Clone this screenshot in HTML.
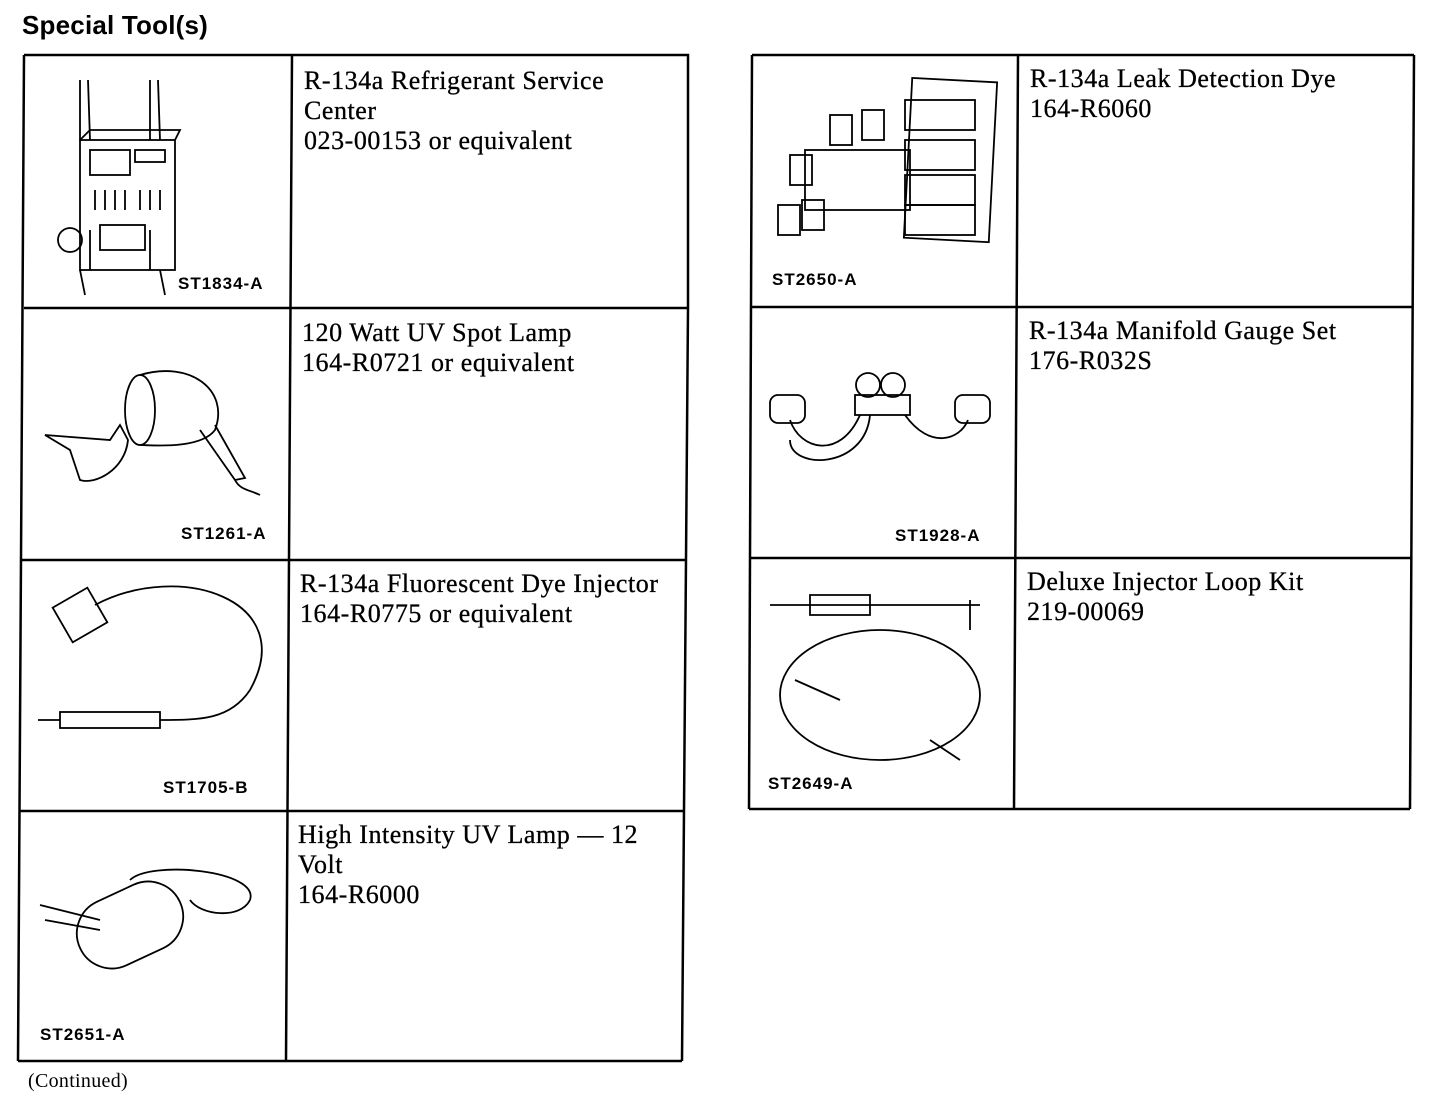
<!DOCTYPE html>
<html><head><meta charset="utf-8"><style>
body{margin:0;width:1440px;height:1110px;background:#fff;position:relative;overflow:hidden}
.t{position:absolute;font-family:"Liberation Serif",serif;font-size:26px;line-height:30px;color:#000;letter-spacing:0.55px;-webkit-text-stroke:0.3px #000}
.l{position:absolute;font-family:"Liberation Sans",sans-serif;font-weight:bold;font-size:17px;color:#000;letter-spacing:1px}
svg{position:absolute;left:0;top:0}
</style></head><body>
<div class="l" style="left:22px;top:10px;font-size:26px;letter-spacing:0.2px">Special Tool(s)</div>
<svg width="1440" height="1110" fill="none" stroke="#000" stroke-width="2.5">
<polyline points="24,55 688,55 688,308"/>
<line x1="24" y1="55" x2="18" y2="1061"/>
<line x1="688" y1="308" x2="682" y2="1061"/>
<line x1="18" y1="1061" x2="682" y2="1061"/>
<line x1="24" y1="308" x2="688" y2="308"/>
<line x1="22" y1="560" x2="686" y2="560"/>
<line x1="20" y1="811" x2="684" y2="811"/>
<line x1="292" y1="55" x2="286" y2="1061"/>
<line x1="752" y1="55" x2="1414" y2="55"/>
<line x1="752" y1="55" x2="749" y2="809"/>
<line x1="1414" y1="55" x2="1410" y2="809"/>
<line x1="749" y1="809" x2="1410" y2="809"/>
<line x1="751" y1="307" x2="1413" y2="307"/>
<line x1="750" y1="558" x2="1412" y2="558"/>
<line x1="1018" y1="55" x2="1014" y2="809"/>
<g stroke-width="1.8">
<path d="M80,140 L80,80 M90,140 L88,80 M150,140 L150,80 M160,140 L158,80"/>
<rect x="80" y="140" width="95" height="130"/><path d="M80,140 l10,-10 h90 l-5,10"/>
<rect x="90" y="150" width="40" height="25"/><rect x="135" y="150" width="30" height="12"/>
<path d="M95,190v20 M105,190v20 M115,190v20 M125,190v20 M140,190v20 M150,190v20 M160,190v20"/>
<circle cx="70" cy="240" r="12"/><path d="M80,270 L85,295 M160,270 L165,295 M90,230 v40 M150,230 v40"/>
<rect x="100" y="225" width="45" height="25"/>
<ellipse cx="140" cy="410" rx="15" ry="35"/><path d="M140,375 C190,360 230,390 215,430 C200,450 150,445 140,445"/>
<path d="M200,430 L235,480 L245,478 L215,425 M235,480 C240,490 250,490 260,495"/>
<path d="M45,435 L110,440 L120,425 L128,440 C125,470 95,485 80,480 L70,450 Z"/>
<path d="M95,605 C180,560 300,600 250,690 C230,720 200,720 160,720"/>
<rect x="60" y="595" width="40" height="40" transform="rotate(-30 80 615)"/>
<rect x="60" y="712" width="100" height="16"/><line x1="38" y1="720" x2="60" y2="720"/>
<rect x="75" y="890" width="110" height="70" rx="35" transform="rotate(-25 130 925)"/>
<path d="M40,905 L100,920 M45,920 L100,930 M130,880 C150,860 260,870 250,900 C240,920 200,915 190,900"/>
<rect x="908" y="80" width="85" height="160" transform="rotate(3 950 160)"/>
<rect x="905" y="100" width="70" height="30"/><rect x="905" y="140" width="70" height="30"/><rect x="905" y="175" width="70" height="30"/><rect x="905" y="205" width="70" height="30"/>
<rect x="805" y="150" width="105" height="60"/>
<rect x="830" y="115" width="22" height="30"/><rect x="862" y="110" width="22" height="30"/><rect x="790" y="155" width="22" height="30"/>
<rect x="778" y="205" width="22" height="30"/><rect x="802" y="200" width="22" height="30"/>
<circle cx="868" cy="385" r="12"/><circle cx="893" cy="385" r="12"/><rect x="855" y="395" width="55" height="20"/>
<path d="M860,415 C840,460 800,450 790,420 M905,415 C930,450 960,440 968,420 M870,415 C865,470 790,470 790,440"/>
<rect x="770" y="395" width="35" height="28" rx="8"/><rect x="955" y="395" width="35" height="28" rx="8"/>
<path d="M770,605 H980 M810,595 h60 v20 h-60z M970,600 v30"/>
<ellipse cx="880" cy="695" rx="100" ry="65"/><path d="M795,680 L840,700 M930,740 L960,760"/>
</g>
</svg>
<div class="t" style="left:304px;top:66px">R-134a Refrigerant Service<br>Center<br>023-00153 or equivalent</div>
<div class="t" style="left:302px;top:318px">120 Watt UV Spot Lamp<br>164-R0721 or equivalent</div>
<div class="t" style="left:300px;top:569px">R-134a Fluorescent Dye Injector<br>164-R0775 or equivalent</div>
<div class="t" style="left:298px;top:820px">High Intensity UV Lamp — 12<br>Volt<br>164-R6000</div>
<div class="t" style="left:1030px;top:64px">R-134a Leak Detection Dye<br>164-R6060</div>
<div class="t" style="left:1029px;top:316px">R-134a Manifold Gauge Set<br>176-R032S</div>
<div class="t" style="left:1027px;top:567px">Deluxe Injector Loop Kit<br>219-00069</div>
<div class="l" style="left:178px;top:274px">ST1834-A</div>
<div class="l" style="left:181px;top:524px">ST1261-A</div>
<div class="l" style="left:163px;top:778px">ST1705-B</div>
<div class="l" style="left:40px;top:1025px">ST2651-A</div>
<div class="l" style="left:772px;top:270px">ST2650-A</div>
<div class="l" style="left:895px;top:526px">ST1928-A</div>
<div class="l" style="left:768px;top:774px">ST2649-A</div>
<div class="t" style="left:28px;top:1066px;font-size:20px;letter-spacing:0.3px;-webkit-text-stroke:0">(Continued)</div>
</body></html>
